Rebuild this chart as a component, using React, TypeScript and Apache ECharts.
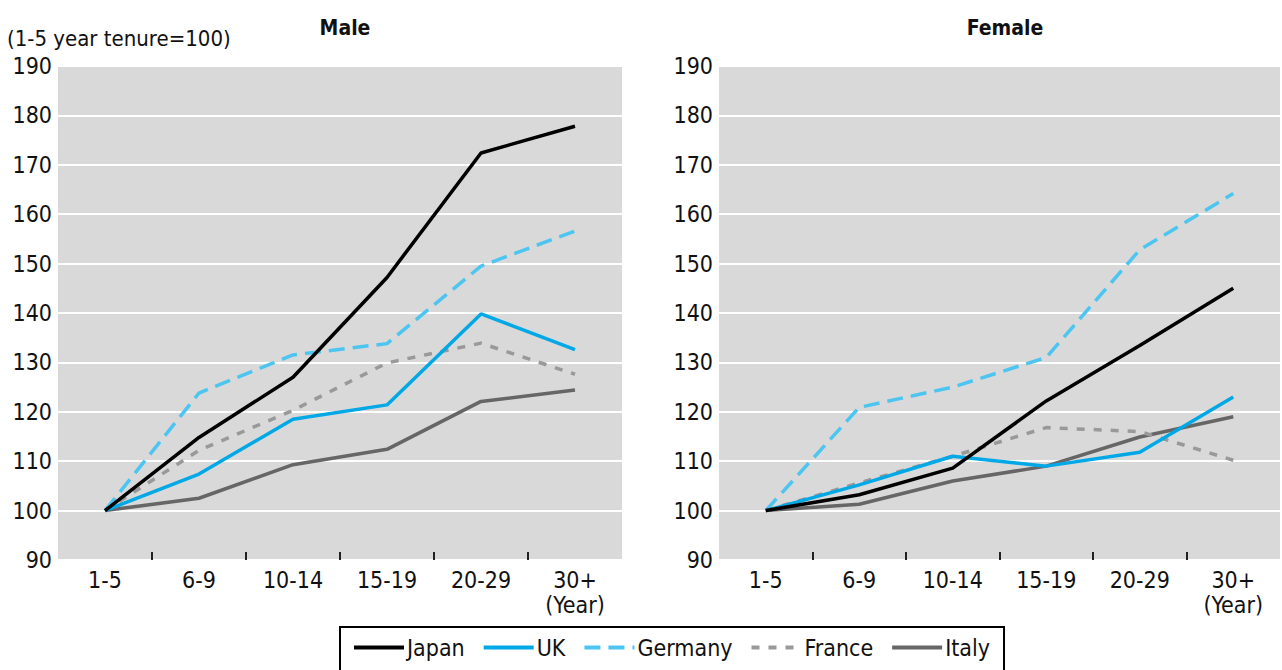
import React, { useEffect, useRef } from "react";
import * as echarts from "echarts";

const categories = ["1-5", "6-9", "10-14", "15-19", "20-29", "30+"];
const lastCategoryNote = "(Year)";
const yTicks = [90, 100, 110, 120, 130, 140, 150, 160, 170, 180, 190];

const countries = ["Japan", "UK", "Germany", "France", "Italy"];

const maleJapan = [100, 114.8, 127.0, 147.2, 172.4, 177.8];
const maleUK = [100, 107.4, 118.5, 121.4, 139.8, 132.6];
const maleGermany = [100, 123.8, 131.5, 133.8, 149.5, 156.6];
const maleFrance = [100, 112.2, 120.3, 129.9, 133.9, 127.6];
const maleItaly = [100, 102.5, 109.3, 112.4, 122.1, 124.4];

const femaleJapan = [100, 103.2, 108.6, 122.2, 133.4, 145.0];
const femaleUK = [100, 105.2, 111.0, 109.0, 111.8, 123.0];
const femaleGermany = [100, 120.9, 125.0, 131.0, 152.8, 164.2];
const femaleFrance = [100, 105.6, 111.0, 116.8, 116.0, 110.2];
const femaleItaly = [100, 101.3, 106.0, 109.0, 114.9, 119.0];

const FONT = "'Liberation Sans Narrow', 'DejaVu Sans Condensed', 'Roboto', sans-serif";
const FS = 23;

const styles: Record<string, { color: string; type: any }> = {
  Japan: { color: "#000000", type: "solid" },
  UK: { color: "#00a9e6", type: "solid" },
  Germany: { color: "#4cc6f0", type: [16, 8] },
  France: { color: "#999999", type: [8, 9] },
  Italy: { color: "#666666", type: "solid" },
};

export default function App() {
  const ref = useRef<HTMLDivElement>(null);
  useEffect(() => {
    document.body.style.margin = "0";
    const chart = echarts.init(ref.current!, null, { renderer: "svg" });
    const maleData = [maleJapan, maleUK, maleGermany, maleFrance, maleItaly];
    const femaleData = [femaleJapan, femaleUK, femaleGermany, femaleFrance, femaleItaly];
    const series: any[] = [];
    [maleData, femaleData].forEach((set, gi) => {
      countries.forEach((name, i) => {
        series.push({
          type: "line",
          name,
          xAxisIndex: gi * 2,
          yAxisIndex: gi,
          data: set[i],
          symbol: "none",
          showSymbol: false,
          lineStyle: { width: 3.5, color: styles[name].color, type: styles[name].type },
          itemStyle: { color: styles[name].color },
          z: 3 + (4 - i),
        });
      });
    });

    const catAxis = (gi: number) => ({
      type: "category",
      gridIndex: gi,
      data: categories,
      boundaryGap: true,
      position: "bottom",
      axisLine: { show: false },
      axisTick: { show: false },
      axisLabel: {
        fontFamily: FONT,
        fontSize: FS,
        color: "#111",
        margin: 7,
        lineHeight: 25,
        formatter: (v: string) => (v === categories[categories.length - 1] ? `${v}\n${lastCategoryNote}` : v),
      },
    });
    const tickAxis = (gi: number) => ({
      type: "value",
      gridIndex: gi,
      min: 0,
      max: 6,
      interval: 1,
      position: "bottom",
      axisLine: { show: false },
      axisLabel: { show: false },
      splitLine: { show: false },
      axisTick: {
        show: true,
        inside: true,
        length: 8,
        lineStyle: { color: "#222", width: 2 },
        customValues: [1, 2, 3, 4, 5],
      },
    });
    const valAxis = (gi: number) => ({
      type: "value",
      gridIndex: gi,
      min: yTicks[0],
      max: yTicks[yTicks.length - 1],
      interval: 10,
      axisLine: { show: false },
      axisTick: { show: false },
      axisLabel: { fontFamily: FONT, fontSize: FS, color: "#111", margin: 6 },
      splitLine: { show: true, lineStyle: { color: "#ffffff", width: 2 } },
    });

    const titleStyle = { fontFamily: FONT, fontSize: 21, fontWeight: "bold", color: "#111" };

    chart.setOption({
      animation: false,
      textStyle: { fontFamily: FONT },
      title: [
        { text: "Male", left: 340, textAlign: "center", top: 12, textStyle: titleStyle },
        { text: "Female", left: 1000, textAlign: "center", top: 12, textStyle: titleStyle },
        { text: "(1-5 year tenure=100)", left: 7, top: 26, padding: [0, 5, 0, 0], textStyle: { fontFamily: FONT, fontSize: 22, fontWeight: "normal", color: "#111", lineHeight: 24 } },
      ],
      grid: [
        { left: 58, top: 66, width: 564, height: 494, show: true, backgroundColor: "#d9d9d9", borderWidth: 0 },
        { left: 719, top: 66, width: 561, height: 494, show: true, backgroundColor: "#d9d9d9", borderWidth: 0 },
      ],
      xAxis: [catAxis(0), tickAxis(0), catAxis(1), tickAxis(1)],
      yAxis: [valAxis(0), valAxis(1)],
      legend: {
        data: countries,
        left: 340,
        top: 627,
        orient: "horizontal",
        itemWidth: 50,
        itemHeight: 12,
        itemGap: 17,
        padding: [9, 14, 14, 12],
        borderColor: "#000",
        borderWidth: 2,
        itemStyle: { opacity: 0 },
        lineStyle: { width: 4 },
        textStyle: { fontFamily: FONT, fontSize: FS, color: "#111", padding: [0, 0, 0, -2] },
      },
      series,
    });
    return () => chart.dispose();
  }, []);
  return <div ref={ref} style={{ width: 1282, height: 670 }} />;
}
